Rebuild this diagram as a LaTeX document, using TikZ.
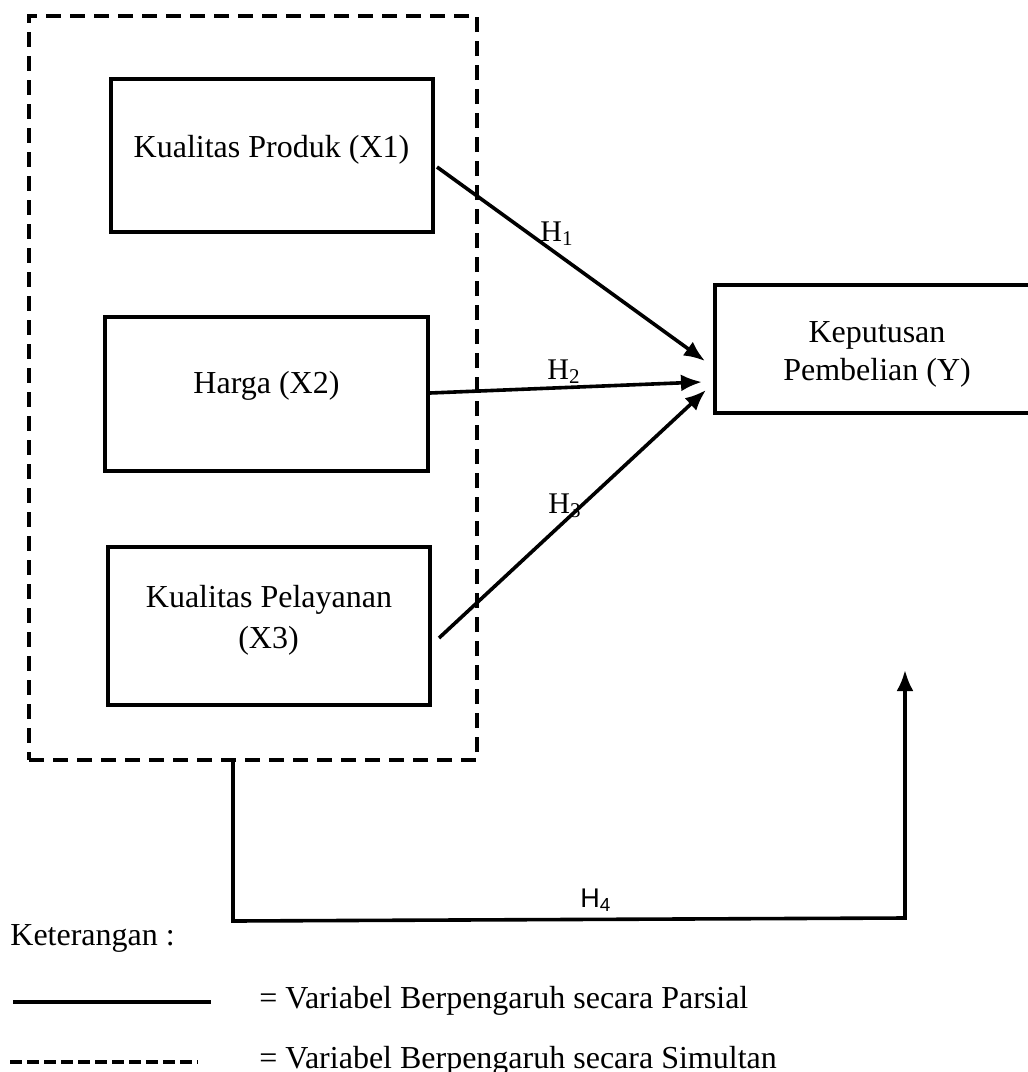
\documentclass[tikz,border=0pt]{standalone}
\usepackage{fontspec}
\setmainfont{Liberation Serif}
\newfontfamily\hsans{Liberation Sans}
\usetikzlibrary{arrows.meta,calc}
\begin{document}
\begin{tikzpicture}[x=0.5pt,y=-0.5pt,
  box/.style={draw, line width=2pt, inner sep=0pt},
  grpbox/.style={draw, line width=2pt, dash pattern=on 7.5pt off 4.5pt, inner sep=0pt},
  txt/.style={anchor=base, inner sep=0pt, font=\fontsize{16}{19}\selectfont},
  ltxt/.style={anchor=base west, inner sep=0pt, font=\fontsize{16}{19}\selectfont},
  hlab/.style={anchor=base west, inner sep=0pt, font=\fontsize{15}{17}\selectfont},
  arr/.style={line width=1.8pt, -{Latex[length=10.5pt,width=8.5pt]}}]
\useasboundingbox (0,0) rectangle (1028,1072);
\clip (0,0) rectangle (1028,1072);

% dashed group
\node[grpbox, minimum width=224pt, minimum height=372pt] (grp) at (253,388) {};

% boxes
\node[box, minimum width=161pt, minimum height=76.5pt] (x1) at (272,155.5) {};
\node[box, minimum width=161.5pt, minimum height=77pt] (x2) at (266.5,394) {};
\node[box, minimum width=161pt, minimum height=79pt] (x3) at (269,626) {};
\node[box, minimum width=162.5pt, minimum height=64pt] (y) at (877.5,349) {};

% box texts
\node[txt] (x1t) at (271.5,157) {Kualitas Produk (X1)};
\node[txt] (x2t) at (266.5,393) {Harga (X2)};
\node[txt] (x3ta) at (269,607) {Kualitas Pelayanan};
\node[txt] (x3tb) at (268.5,648) {(X3)};
\node[txt] (yta) at (877,342) {Keputusan};
\node[txt] (ytb) at (877,380) {Pembelian (Y)};

% arrows
\draw[arr] ([xshift=1pt,yshift=-5.75pt]x1.east) -- ([xshift=-4pt,yshift=-6pt]y.west);
\draw[arr] ([yshift=0.5pt]x2.east) -- ([xshift=-5.5pt,yshift=-16.5pt]y.west);
\draw[arr] ([xshift=3.5pt,yshift=-6pt]x3.east) -- ([xshift=-3.5pt,yshift=-20.5pt]y.west);

\node[hlab] (h1) at (540,241) {H\textsubscript{1}};
\node[hlab] (h2) at (547,379) {H\textsubscript{2}};
\node[hlab] (h3) at (548,513) {H\textsubscript{3}};

% H4 path
\coordinate (c1) at (233,921);
\coordinate (c2) at (905,918);
\coordinate (h4end) at (905,670);
\draw[arr] ([xshift=-10pt]grp.south) -- (c1) -- (c2) -- (h4end);
\node[anchor=base west, inner sep=0pt, font=\hsans\fontsize{13.5}{15}\selectfont] (h4) at (580,907) {H\textsubscript{4}};

% legend
\node[ltxt] (ket) at (10,945) {Keterangan :};
\coordinate (ls1) at (13,1002);
\coordinate (ls2) at (211,1002);
\draw[line width=2pt] (ls1) -- (ls2);
\coordinate (ld1) at (10,1062);
\coordinate (ld2) at (198,1062);
\draw[line width=2pt, dash pattern=on 6pt off 2.5pt] (ld1) -- (ld2);
\node[ltxt] (lp) at (259,1008) {= Variabel Berpengaruh secara Parsial};
\node[ltxt] (ls) at (259,1068) {= Variabel Berpengaruh secara Simultan};
\end{tikzpicture}
\end{document}
